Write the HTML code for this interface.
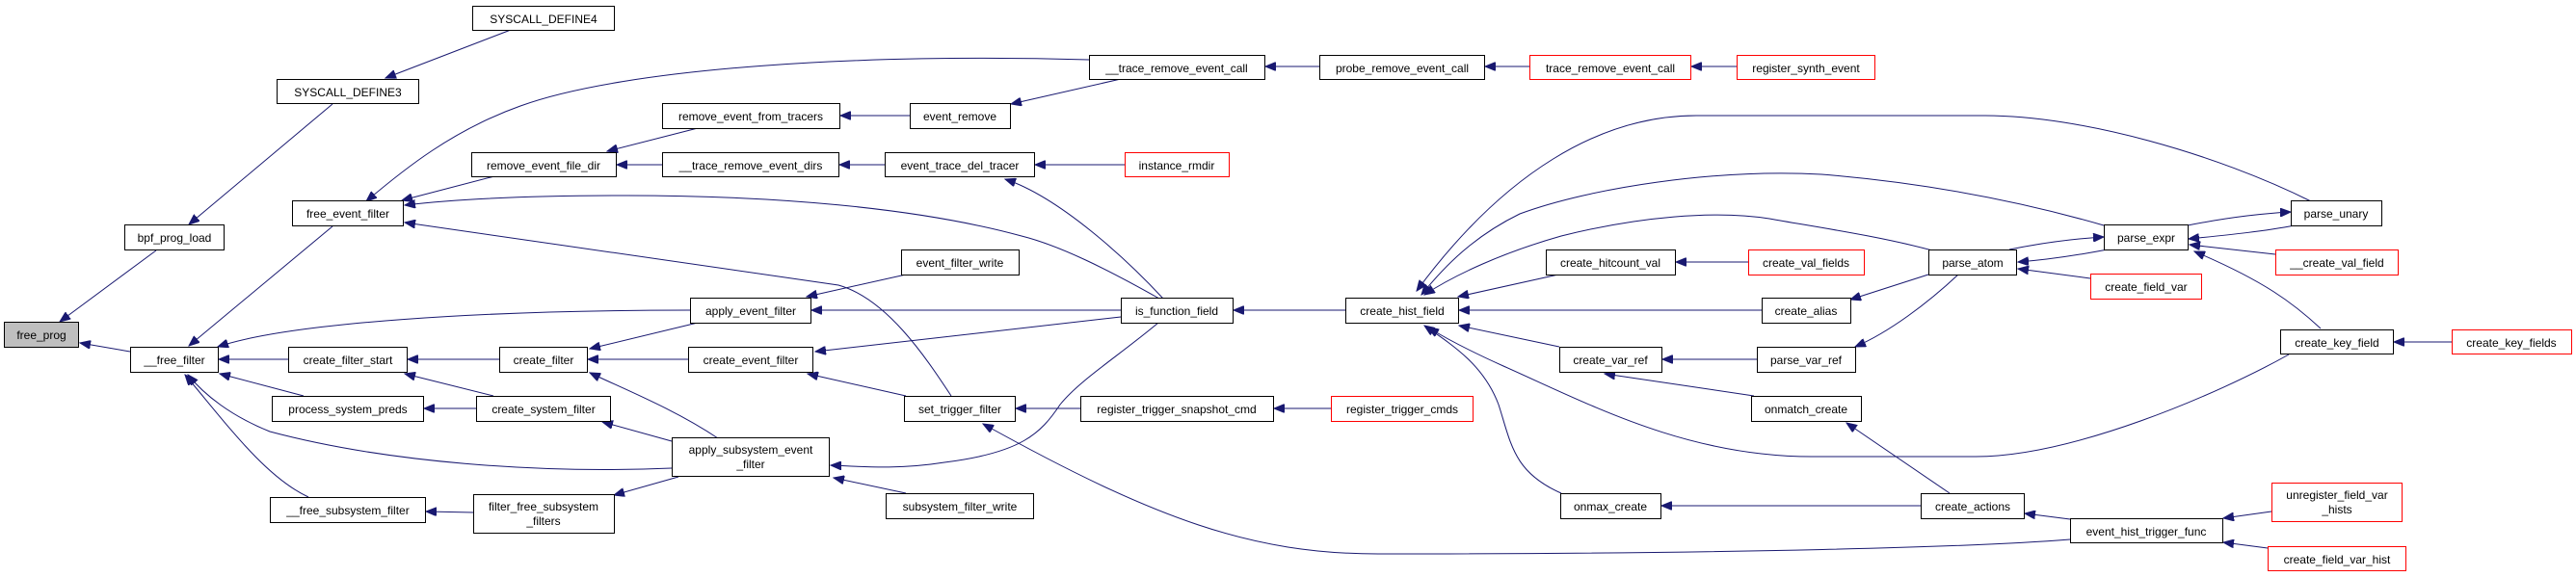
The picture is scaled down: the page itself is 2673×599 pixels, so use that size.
<!DOCTYPE html>
<html><head><meta charset="utf-8"><style>
html,body{margin:0;padding:0;background:#fff;}
svg{display:block;}
text{font-family:"Liberation Sans",sans-serif;font-size:12px;fill:#000;text-anchor:middle;}
rect{fill:#fff;stroke:#000;stroke-width:1;}
rect.r{stroke:#ff0000;}
path{fill:none;stroke:#191970;stroke-width:1;}
</style></head><body>
<svg width="2673" height="599" viewBox="0 0 2673 599" xmlns="http://www.w3.org/2000/svg">
<defs><marker id="a" markerWidth="12" markerHeight="9" refX="11" refY="4.5" orient="auto" markerUnits="userSpaceOnUse"><path d="M0,0 L11,4.5 L0,9 Z" style="fill:#191970;stroke:#191970"/></marker></defs>
<g marker-end="url(#a)">
<path d="M162,260 L62,334"/>
<path d="M135,365 L83,356"/>
<path d="M345,108 L196,233"/>
<path d="M530,31 L400,81"/>
<path d="M345,235 L196,359"/>
<path d="M299,373 L227,373"/>
<path d="M315,411 L228,388"/>
<path d="M697,486 C560,492 400,480 280,448 C240,432 212,410 195,389"/>
<path d="M320,516 C275,495 235,440 192,389"/>
<path d="M716,322 C500,322 300,335 226,360"/>
<path d="M1130,62 C900,55 650,70 540,110 C470,135 420,175 380,209"/>
<path d="M513,183 L417,208"/>
<path d="M1203,310 C1150,280 1100,255 1060,245 C950,215 800,203 650,203 C550,203 470,207 420,213"/>
<path d="M987,411 C960,370 920,310 870,296 L420,231"/>
<path d="M724,133 L630,157"/>
<path d="M687,171 L640,171"/>
<path d="M944,120 L872,120"/>
<path d="M1163,82 L1049,108"/>
<path d="M1369,69 L1313,69"/>
<path d="M1587,69 L1541,69"/>
<path d="M1802,69 L1755,69"/>
<path d="M918,171 L871,171"/>
<path d="M1167,171 L1074,171"/>
<path d="M1207,310 C1170,270 1100,205 1043,186"/>
<path d="M518,373 L423,373"/>
<path d="M512,411 L420,388"/>
<path d="M494,424 L440,424"/>
<path d="M724,335 L612,362"/>
<path d="M714,373 L610,373"/>
<path d="M745,455 C700,425 650,405 612,387"/>
<path d="M697,458 L625,438"/>
<path d="M491,532 L442,531"/>
<path d="M704,495 L637,514"/>
<path d="M940,285 L837,308"/>
<path d="M1163,322 L842,322"/>
<path d="M1163,329 L846,365"/>
<path d="M940,411 L838,388"/>
<path d="M1202,335 C1160,370 1120,395 1100,420 C1080,450 1060,470 980,480 C930,488 890,484 862,483"/>
<path d="M940,512 L865,496"/>
<path d="M1121,424 L1054,424"/>
<path d="M2148,560 C2050,568 1800,575 1430,575 C1300,575 1200,540 1020,440"/>
<path d="M1381,424 L1322,424"/>
<path d="M1396,322 L1280,322"/>
<path d="M1617,285 L1513,308"/>
<path d="M1828,322 L1514,322"/>
<path d="M1618,360 L1514,338"/>
<path d="M1620,512 C1570,490 1568,460 1555,420 C1540,380 1510,360 1478,338"/>
<path d="M2375,368 C2300,410 2150,474 2050,474 L1880,474 C1750,474 1650,420 1560,380 C1520,362 1495,348 1482,340"/>
<path d="M2398,209 C2300,160 2160,120 2060,120 L1760,120 C1660,120 1560,180 1470,302"/>
<path d="M2183,234 C2100,210 2000,190 1890,181 C1780,175 1650,195 1577,222 C1530,245 1500,275 1475,306"/>
<path d="M2005,260 C1950,245 1880,235 1836,227 C1780,218 1700,225 1620,245 C1560,262 1510,285 1478,306"/>
<path d="M1814,272 L1739,272"/>
<path d="M2001,285 L1920,311"/>
<path d="M2032,285 C2000,315 1960,345 1925,360"/>
<path d="M1823,373 L1725,373"/>
<path d="M1820,411 L1665,388"/>
<path d="M2023,512 L1916,439"/>
<path d="M1993,525 L1724,525"/>
<path d="M2148,539 L2101,533"/>
<path d="M2357,531 L2307,538"/>
<path d="M2353,569 L2307,563"/>
<path d="M2187,259 C2150,266 2120,270 2094,272"/>
<path d="M2085,259 C2120,252 2150,248 2183,246"/>
<path d="M2169,289 L2094,279"/>
<path d="M2270,234 C2300,228 2340,222 2377,220"/>
<path d="M2381,234 C2345,241 2300,245 2271,248"/>
<path d="M2361,264 L2272,254"/>
<path d="M2408,341 C2380,315 2350,292 2277,261"/>
<path d="M2544,355 L2484,355"/>
</g>
<g>
<rect x="4.5" y="334.5" width="77" height="26" style="fill:#bfbfbf"/><text x="43" y="352">free_prog</text>
<rect x="129.5" y="233.5" width="103" height="26"/><text x="181" y="251">bpf_prog_load</text>
<rect x="287.5" y="82.5" width="147" height="25"/><text x="361" y="100">SYSCALL_DEFINE3</text>
<rect x="490.5" y="6.5" width="147" height="25"/><text x="564" y="24">SYSCALL_DEFINE4</text>
<rect x="135.5" y="360.5" width="91" height="26"/><text x="181" y="378">__free_filter</text>
<rect x="303.5" y="208.5" width="115" height="26"/><text x="361" y="226">free_event_filter</text>
<rect x="489.5" y="158.5" width="150" height="25"/><text x="564" y="176">remove_event_file_dir</text>
<rect x="299.5" y="360.5" width="123" height="26"/><text x="361" y="378">create_filter_start</text>
<rect x="518.5" y="360.5" width="91" height="26"/><text x="564" y="378">create_filter</text>
<rect x="282.5" y="411.5" width="157" height="26"/><text x="361" y="429">process_system_preds</text>
<rect x="494.5" y="411.5" width="139" height="26"/><text x="564" y="429">create_system_filter</text>
<rect x="280.5" y="516.5" width="161" height="26"/><text x="361" y="534">__free_subsystem_filter</text>
<rect x="491.5" y="513.5" width="146" height="40"/><text x="564" y="530">filter_free_subsystem</text><text x="564" y="545">_filters</text>
<rect x="1130.5" y="57.5" width="182" height="25"/><text x="1221" y="75">__trace_remove_event_call</text>
<rect x="687.5" y="107.5" width="184" height="26"/><text x="779" y="125">remove_event_from_tracers</text>
<rect x="944.5" y="107.5" width="104" height="26"/><text x="996" y="125">event_remove</text>
<rect x="687.5" y="158.5" width="183" height="25"/><text x="779" y="176">__trace_remove_event_dirs</text>
<rect x="918.5" y="158.5" width="155" height="25"/><text x="996" y="176">event_trace_del_tracer</text>
<rect class="r" x="1167.5" y="158.5" width="108" height="25"/><text x="1221" y="176">instance_rmdir</text>
<rect x="935.5" y="259.5" width="122" height="26"/><text x="996" y="277">event_filter_write</text>
<rect x="716.5" y="309.5" width="125" height="26"/><text x="779" y="327">apply_event_filter</text>
<rect x="1163.5" y="309.5" width="116" height="26"/><text x="1221" y="327">is_function_field</text>
<rect x="714.5" y="360.5" width="129" height="26"/><text x="779" y="378">create_event_filter</text>
<rect x="938.5" y="411.5" width="115" height="26"/><text x="996" y="429">set_trigger_filter</text>
<rect x="1121.5" y="411.5" width="200" height="26"/><text x="1221" y="429">register_trigger_snapshot_cmd</text>
<rect x="697.5" y="454.5" width="163" height="40"/><text x="779" y="471">apply_subsystem_event</text><text x="779" y="486">_filter</text>
<rect x="919.5" y="512.5" width="153" height="26"/><text x="996" y="530">subsystem_filter_write</text>
<rect x="1369.5" y="57.5" width="171" height="25"/><text x="1455" y="75">probe_remove_event_call</text>
<rect class="r" x="1587.5" y="57.5" width="167" height="25"/><text x="1671" y="75">trace_remove_event_call</text>
<rect class="r" x="1802.5" y="57.5" width="143" height="25"/><text x="1874" y="75">register_synth_event</text>
<rect x="1396.5" y="309.5" width="117" height="26"/><text x="1455" y="327">create_hist_field</text>
<rect x="1604.5" y="259.5" width="134" height="26"/><text x="1671" y="277">create_hitcount_val</text>
<rect class="r" x="1814.5" y="259.5" width="120" height="26"/><text x="1874" y="277">create_val_fields</text>
<rect x="1828.5" y="309.5" width="92" height="26"/><text x="1874" y="327">create_alias</text>
<rect x="1618.5" y="360.5" width="106" height="26"/><text x="1671" y="378">create_var_ref</text>
<rect x="1823.5" y="360.5" width="102" height="26"/><text x="1874" y="378">parse_var_ref</text>
<rect class="r" x="1381.5" y="411.5" width="147" height="26"/><text x="1455" y="429">register_trigger_cmds</text>
<rect x="1817.5" y="411.5" width="114" height="26"/><text x="1874" y="429">onmatch_create</text>
<rect x="1619.5" y="512.5" width="104" height="26"/><text x="1671" y="530">onmax_create</text>
<rect x="2377.5" y="208.5" width="94" height="26"/><text x="2424" y="226">parse_unary</text>
<rect x="2183.5" y="233.5" width="87" height="26"/><text x="2227" y="251">parse_expr</text>
<rect x="2001.5" y="259.5" width="91" height="26"/><text x="2047" y="277">parse_atom</text>
<rect class="r" x="2361.5" y="259.5" width="127" height="26"/><text x="2425" y="277">__create_val_field</text>
<rect class="r" x="2169.5" y="284.5" width="115" height="26"/><text x="2227" y="302">create_field_var</text>
<rect x="2366.5" y="342.5" width="117" height="25"/><text x="2425" y="360">create_key_field</text>
<rect class="r" x="2544.5" y="342.5" width="124" height="25"/><text x="2606" y="360">create_key_fields</text>
<rect x="1993.5" y="512.5" width="107" height="26"/><text x="2047" y="530">create_actions</text>
<rect x="2148.5" y="538.5" width="158" height="25"/><text x="2227" y="556">event_hist_trigger_func</text>
<rect class="r" x="2357.5" y="501.5" width="135" height="40"/><text x="2425" y="518">unregister_field_var</text><text x="2425" y="533">_hists</text>
<rect class="r" x="2353.5" y="567.5" width="143" height="25"/><text x="2425" y="585">create_field_var_hist</text>
</g>
</svg>
</body></html>
